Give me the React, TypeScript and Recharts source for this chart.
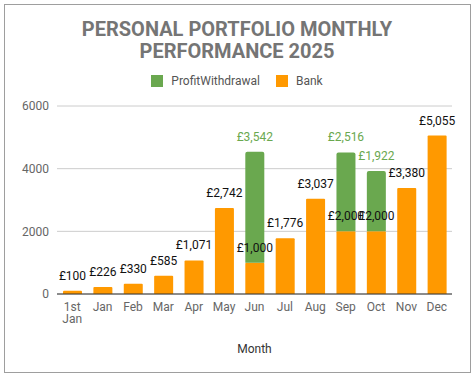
import React from 'react';
import { BarChart, CartesianGrid, XAxis, YAxis, Bar, LabelList } from 'recharts';

const months = ['1st Jan', 'Jan', 'Feb', 'Mar', 'Apr', 'May', 'Jun', 'Jul', 'Aug', 'Sep', 'Oct', 'Nov', 'Dec'];
const bank = [100, 226, 330, 585, 1071, 2742, 1000, 1776, 3037, 2000, 2000, 3380, 5055];
const profitWithdrawal = [null, null, null, null, null, null, 3542, null, null, 2516, 1922, null, null];
const yTicks = [0, 2000, 4000, 6000];

const data = months.map((m, i) => ({
  month: m,
  bank: bank[i],
  profit: profitWithdrawal[i],
}));

const font = 'Roboto, sans-serif';
const green = '#6aa84f';
const orange = '#ff9900';

const money = (v: any) => (v == null || v === 0 ? '' : '£' + Number(v).toLocaleString('en-GB'));

const MonthTick = ({ x, y, payload }: any) => {
  const parts = String(payload.value).split(' ');
  return (
    <text x={x} y={y} textAnchor="middle" fill="#666" fontSize={12} fontFamily={font}>
      {parts.map((p, i) => (
        <tspan key={i} x={x} dy={i === 0 ? 9 : 12}>
          {p}
        </tspan>
      ))}
    </text>
  );
};

const Swatch = ({ color, label }: { color: string; label: string }) => (
  <span style={{ display: 'inline-flex', alignItems: 'center', margin: '0 8px' }}>
    <span style={{ width: 12, height: 12, background: color, display: 'inline-block', marginRight: 8 }} />
    <span>{label}</span>
  </span>
);

export default function App() {
  return (
    <div style={{ position: 'absolute', left: 0, top: 0, width: 474, height: 380, fontFamily: font }}>
      <div
        style={{
          position: 'absolute',
          left: 4,
          top: 4,
          width: 465,
          height: 367,
          border: '1px solid #9e9e9e',
        }}
      />
      <div
        style={{
          position: 'absolute',
          left: 0,
          top: 18,
          width: 474,
          textAlign: 'center',
          fontSize: 20,
          fontWeight: 700,
          lineHeight: '22px',
          color: '#757575',
        }}
      >
        PERSONAL PORTFOLIO MONTHLY
        <br />
        PERFORMANCE 2025
      </div>
      <div
        style={{
          position: 'absolute',
          left: 0,
          top: 73,
          width: 474,
          textAlign: 'center',
          fontSize: 12,
          color: '#555',
          lineHeight: '16px',
        }}
      >
        <Swatch color={green} label="ProfitWithdrawal" />
        <Swatch color={orange} label="Bank" />
      </div>
      <div style={{ position: 'absolute', left: 0, top: 0 }}>
        <BarChart
          width={474}
          height={380}
          data={data}
          margin={{ top: 106, right: 22, bottom: 26, left: 0 }}
          barSize={19}
        >
          <CartesianGrid vertical={false} stroke="#cccccc" />
          <XAxis
            dataKey="month"
            tick={<MonthTick />}
            tickLine={false}
            axisLine={{ stroke: '#333' }}
            interval={0}
            height={60}
            label={{ value: 'Month', position: 'insideBottom', offset: 1, fill: '#333', fontSize: 12, fontFamily: font }}
          />
          <YAxis
            width={57}
            domain={[0, 6000]}
            ticks={yTicks}
            tickLine={false}
            axisLine={false}
            tick={{ fill: '#666', fontSize: 12, fontFamily: font }}
          />
          <Bar dataKey="bank" stackId="a" fill={orange} radius={[1, 1, 0, 0]} isAnimationActive={false}>
            <LabelList dataKey="bank" position="top" offset={11} formatter={money} fill="#111" fontSize={12} fontFamily={font} />
          </Bar>
          <Bar dataKey="profit" stackId="a" fill={green} radius={[2, 2, 0, 0]} isAnimationActive={false}>
            <LabelList dataKey="profit" position="top" offset={11} formatter={money} fill={green} fontSize={12} fontFamily={font} />
          </Bar>
        </BarChart>
      </div>
    </div>
  );
}
